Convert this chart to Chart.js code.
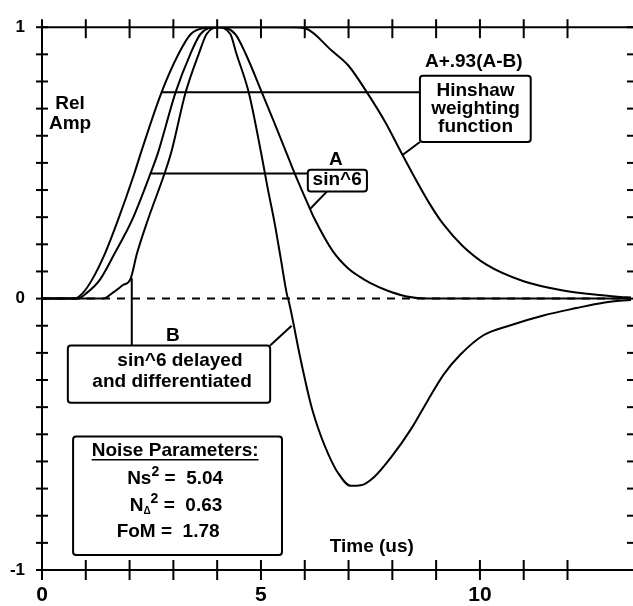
<!DOCTYPE html>
<html>
<head>
<meta charset="utf-8">
<script src="https://cdn.jsdelivr.net/npm/chart.js@4.4.1/dist/chart.umd.min.js"></script>
<style>
  html, body { margin: 0; padding: 0; background: #fff; }
</style>
</head>
<body>
<canvas id="chart" width="633" height="606"></canvas>
<script>
// --- Valeurs (temps en us, amplitude relative) ---
const hinshawT = [0, 0.75, 0.94, 1.14, 1.44, 1.73, 2.11, 2.26, 2.73, 3.12, 3.4, 3.7, 4.0, 4.6, 5.2, 5.7, 6.02, 6.62, 7.0, 7.42, 7.84, 8.23, 8.85, 9.16, 9.6, 10.15, 10.98, 11.9, 12.8, 13.2, 13.45];
const hinshawV = [0, 0, 0.022, 0.069, 0.167, 0.287, 0.462, 0.538, 0.76, 0.902, 0.975, 0.997, 1.0, 1.0, 1.0, 1.0, 0.995, 0.913, 0.858, 0.76, 0.65, 0.53, 0.35, 0.275, 0.195, 0.125, 0.065, 0.03, 0.012, 0.006, 0.004];

const sinT = [0, 0.8, 1.03, 1.32, 1.66, 2.05, 2.48, 2.65, 3.05, 3.39, 3.62, 4.0, 4.41, 4.65, 5.02, 5.3, 5.6, 5.76, 6.08, 6.22, 6.64, 7.0, 7.26, 7.49, 7.88, 8.33, 8.8, 13.45];
const sinV = [0, 0, 0.022, 0.069, 0.167, 0.287, 0.462, 0.538, 0.76, 0.902, 0.975, 1.0, 0.975, 0.902, 0.76, 0.65, 0.53, 0.465, 0.345, 0.295, 0.175, 0.11, 0.08, 0.058, 0.03, 0.008, 0, 0];

const diffT = [0, 1.4, 1.62, 1.85, 2.02, 2.17, 2.41, 2.8, 2.95, 3.28, 3.58, 3.76, 4.0, 4.3, 4.44, 4.72, 5.0, 5.15, 5.31, 5.45, 5.6, 5.62, 5.9, 6.14, 6.3, 6.45, 6.6, 6.75, 7.05, 7.28, 7.58, 7.97, 8.43, 8.8, 9.17, 9.55, 10.08, 10.7, 11.45, 12.2, 12.82, 13.2, 13.45];
const diffV = [0, 0, 0.022, 0.05, 0.072, 0.167, 0.287, 0.462, 0.538, 0.76, 0.902, 0.975, 1.0, 0.975, 0.902, 0.76, 0.54, 0.41, 0.28, 0.15, 0.01, 0, -0.22, -0.39, -0.475, -0.54, -0.595, -0.64, -0.69, -0.688, -0.658, -0.585, -0.48, -0.378, -0.28, -0.207, -0.135, -0.098, -0.062, -0.035, -0.015, -0.008, -0.005];

const zeroT = [0, 13.45];
const zeroV = [0, 0];

const xLabelValues = [0, 5, 10];
const yLabelValues = [-1, 0, 1];

const fontFamily = "'Liberation Sans', Arial, sans-serif";

const toPoints = (ts, vs) => ts.map((t, i) => ({ x: t, y: vs[i] }));

function seg(ctx, x1, y1, x2, y2) {
    ctx.beginPath();
    ctx.moveTo(x1, y1);
    ctx.lineTo(x2, y2);
    ctx.stroke();
}

function box(ctx, x1, y1, x2, y2) {
    ctx.beginPath();
    if (ctx.roundRect) ctx.roundRect(x1, y1, x2 - x1, y2 - y1, 3);
    else ctx.rect(x1, y1, x2 - x1, y2 - y1);
    ctx.fillStyle = '#fff';
    ctx.fill();
    ctx.stroke();
    ctx.fillStyle = '#000';
}

function text(ctx, str, x, y, size) {
    ctx.font = `bold ${size}px ${fontFamily}`;
    ctx.textAlign = 'center';
    ctx.textBaseline = 'middle';
    ctx.fillText(str, x, y);
}

// texte composé (indices / exposants)
function richText(ctx, parts, cx, cy) {
    let total = 0;
    parts.forEach(p => {
        ctx.font = `bold ${p.size}px ${fontFamily}`;
        p.w = ctx.measureText(p.text).width;
        total += p.w;
    });
    let x = cx - total / 2;
    ctx.textAlign = 'left';
    ctx.textBaseline = 'middle';
    parts.forEach(p => {
        ctx.font = `bold ${p.size}px ${fontFamily}`;
        ctx.fillText(p.text, x, cy + (p.dy || 0));
        x += p.w;
    });
}

// --- Décor : axes, graduations, étiquettes ---
const decorPlugin = {
    id: 'decor',
    afterDraw(chart) {
        const ctx = chart.ctx;
        const xs = chart.scales.x, ys = chart.scales.y;
        const X = t => xs.getPixelForValue(t);
        const Y = v => ys.getPixelForValue(v);
        const area = chart.chartArea;
        ctx.save();
        ctx.strokeStyle = '#000';
        ctx.fillStyle = '#000';
        ctx.lineWidth = 2;

        // ligne du haut + graduations
        seg(ctx, area.left - 1, Y(1), chart.width, Y(1));
        xs.ticks.forEach(tk => {
            const px = X(tk.value);
            seg(ctx, px, Y(1) - 8, px, Y(1) + 11);
            seg(ctx, px, Y(-1) - 10, px, Y(-1) + 10);
        });
        ys.ticks.forEach(tk => {
            const py = Y(tk.value);
            seg(ctx, area.left - 6, py, area.left + 6, py);
            seg(ctx, chart.width - 6, py, chart.width, py);
        });

        // Hinshaw
        seg(ctx, X(2.73), Y(0.76), X(8.63), Y(0.76));
        seg(ctx, X(8.63), Y(0.577), X(8.24), Y(0.53));
        box(ctx, X(8.63), Y(0.821), X(11.16), Y(0.577));
        text(ctx, 'A+.93(A-B)', X(9.86), Y(0.872), 19);
        text(ctx, 'Hinshaw', X(9.9), Y(0.767), 19);
        text(ctx, 'weighting', X(9.9), Y(0.699), 19);
        text(ctx, 'function', X(9.9), Y(0.632), 19);

        // A
        seg(ctx, X(2.48), Y(0.461), X(6.07), Y(0.461));
        seg(ctx, X(6.51), Y(0.395), X(6.12), Y(0.33));
        box(ctx, X(6.07), Y(0.475), X(7.42), Y(0.395));
        text(ctx, 'A', X(6.71), Y(0.512), 19);
        text(ctx, 'sin^6', X(6.74), Y(0.437), 19);

        // B
        seg(ctx, X(2.05), Y(0.075), X(2.05), Y(-0.173));
        seg(ctx, X(5.21), Y(-0.173), X(5.7), Y(-0.1));
        box(ctx, X(0.59), Y(-0.173), X(5.21), Y(-0.384));
        text(ctx, 'B', X(2.99), Y(-0.137), 19);
        text(ctx, 'sin^6 delayed', X(3.15), Y(-0.228), 19);
        text(ctx, 'and differentiated', X(2.97), Y(-0.308), 19);

        // paramètres de bruit
        box(ctx, X(0.71), Y(-0.508), X(5.48), Y(-0.945));
        ctx.font = `bold 19px ${fontFamily}`;
        const title = 'Noise Parameters:';
        const tw = ctx.measureText(title).width;
        text(ctx, title, X(3.04), Y(-0.561), 19);
        ctx.lineWidth = 1.5;
        seg(ctx, X(3.04) - tw / 2, Y(-0.561) + 9, X(3.04) + tw / 2, Y(-0.561) + 9);
        richText(ctx, [
            { text: 'Ns', size: 19 },
            { text: '2', size: 14, dy: -7 },
            { text: ' =  5.04', size: 19 }
        ], X(3.04), Y(-0.665));
        richText(ctx, [
            { text: 'N', size: 19 },
            { text: '\u0394', size: 10, dy: 6 },
            { text: '2', size: 14, dy: -7 },
            { text: ' =  0.63', size: 19 }
        ], X(3.06), Y(-0.763));
        richText(ctx, [
            { text: 'FoM =  1.78', size: 19 }
        ], X(2.88), Y(-0.858));

        // titres des axes
        text(ctx, 'Time (us)', X(7.53), Y(-0.913), 19);
        text(ctx, 'Rel', X(0.64), Y(0.718), 19);
        text(ctx, 'Amp', X(0.64), Y(0.645), 19);
        ctx.restore();
    }
};

const lineStyle = {
    borderColor: '#000',
    borderWidth: 2,
    pointRadius: 0,
    fill: false,
    cubicInterpolationMode: 'monotone'
};

const chart = new Chart(document.getElementById('chart').getContext('2d'), {
    type: 'line',
    data: {
        datasets: [
            { label: 'A+.93(A-B)', data: toPoints(hinshawT, hinshawV), ...lineStyle },
            { label: 'A sin^6', data: toPoints(sinT, sinV), ...lineStyle },
            { label: 'B', data: toPoints(diffT, diffV), ...lineStyle },
            { label: 'zero', data: toPoints(zeroT, zeroV), ...lineStyle, borderDash: [8, 7] }
        ]
    },
    options: {
        responsive: false,
        animation: false,
        devicePixelRatio: 1,
        layout: { padding: { top: 21, right: 2, left: 0, bottom: 0 } },
        plugins: {
            legend: { display: false },
            tooltip: { enabled: false }
        },
        scales: {
            x: {
                type: 'linear',
                min: 0,
                max: 13.45,
                afterBuildTicks: s => { s.ticks = s.ticks.filter(t => Number.isInteger(t.value)); },
                afterFit: s => { s.height = 36; },
                grid: { display: false, drawTicks: false },
                border: { display: true, color: '#000', width: 2 },
                ticks: {
                    stepSize: 1,
                    autoSkip: false,
                    maxRotation: 0,
                    padding: 13,
                    color: '#000',
                    font: { family: fontFamily, weight: 'bold', size: 21 },
                    callback: v => xLabelValues.includes(v) ? String(v) : ''
                }
            },
            y: {
                type: 'linear',
                min: -1,
                max: 1,
                afterFit: s => { s.width = 42; },
                grid: { display: false, drawTicks: false },
                border: { display: true, color: '#000', width: 2 },
                ticks: {
                    stepSize: 0.1,
                    autoSkip: false,
                    padding: 17,
                    color: '#000',
                    font: { family: fontFamily, weight: 'bold', size: 17 },
                    callback: v => {
                        const l = yLabelValues.find(k => Math.abs(k - v) < 1e-6);
                        return l === undefined ? '' : String(l);
                    }
                }
            }
        }
    },
    plugins: [decorPlugin]
});
</script>
</body>
</html>
